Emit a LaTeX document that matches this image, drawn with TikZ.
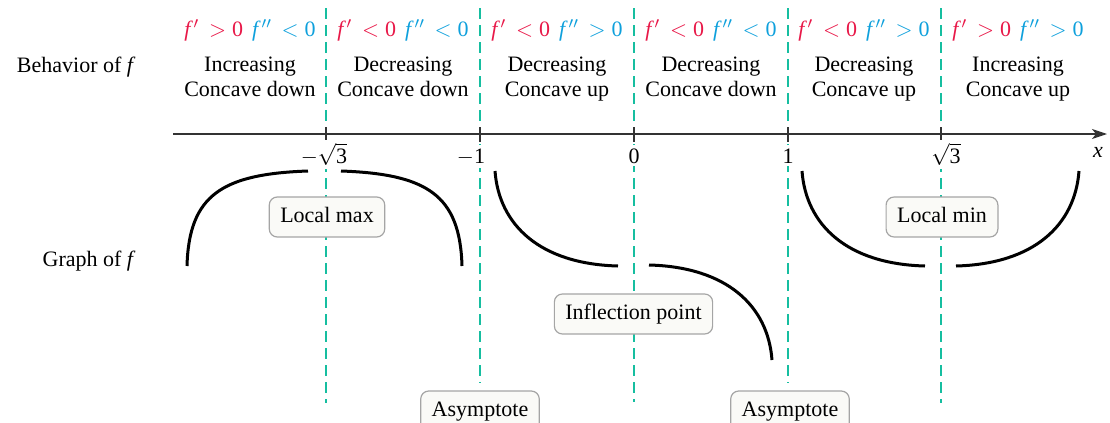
\documentclass[tikz,border=0pt]{standalone}
\usepackage{fontspec}
\setmainfont{Liberation Serif}
\usetikzlibrary{arrows.meta}
\definecolor{fpos}{RGB}{232,24,72}
\definecolor{fsec}{RGB}{14,160,220}
\definecolor{asym}{RGB}{22,190,160}
\definecolor{boxline}{RGB}{165,165,165}
\definecolor{boxfill}{RGB}{250,250,247}
\newcommand{\dfa}{\textit{f\/}\kern0.4pt$'$}
\newcommand{\dfb}{\textit{f\/}\kern0.4pt$''$}
\newcommand{\signs}[2]{{\color{fpos}\dfa\,${}#1{}$0}\hspace{4.5pt}{\color{fsec}\dfb\,${}#2{}$0}}

\begin{document}
\begin{tikzpicture}[x=0.5pt, y=-0.5pt,
    font=\fontsize{11pt}{13pt}\selectfont,
    sign/.style={anchor=base, inner sep=0pt},
    behv/.style={anchor=base, inner sep=0pt},
    rowlab/.style={anchor=base east, inner sep=0pt},
    tklab/.style={anchor=base, fill=white, inner sep=1.5pt},
    tag/.style={draw=boxline, fill=boxfill, line width=0.6pt, rounded corners=4pt,
      inner xsep=5.5pt, inner ysep=0pt, minimum height=20pt,
      text height=7.5pt, text depth=2.3pt},
    guide/.style={asym, line width=0.85pt, dash pattern=on 5.5pt off 3pt},
    axisline/.style={line width=0.65pt, black!80},
    curve/.style={line width=1.5pt}]
  \useasboundingbox (0,0) rectangle (1110,423);
  % dashed guides
  \draw[guide] (326,8) -- (326,403);
  \draw[guide] (480,8) -- (480,383);
  \draw[guide] (634,8) -- (634,402);
  \draw[guide] (788,8) -- (788,383);
  \draw[guide] (941,8) -- (941,403);
  % axis and ticks
  \draw[axisline, -{Stealth[length=7.5pt,width=5pt,inset=2pt]}] (173,134) -- (1107,134);
  \draw[axisline] (326,127) -- (326,142);
  \draw[axisline] (480,127) -- (480,142);
  \draw[axisline] (634,127) -- (634,142);
  \draw[axisline] (788,127) -- (788,142);
  \draw[axisline] (941,127) -- (941,142);
  \node[tklab] (tmr3) at (324,163) {$-\sqrt{\mbox{3}}$};
  \node[tklab] (tm1) at (471,163) {$-$1};
  \node[tklab] (t0) at (634,163) {0};
  \node[tklab] (t1) at (788,163) {1};
  \node[tklab] (tr3) at (946,163) {$\sqrt{\mbox{3}}$};
  \node[sign] (xlab) at (1098,157) {\textit{x}};
  % row labels
  \node[rowlab] (behav) at (136,72) {Behavior of \textit{f}};
  \node[rowlab] (graph) at (136,266) {Graph of \textit{f}};
  % signs and behaviour
  \node[sign] (s1) at (250,36) {\signs{>}{<}};
  \node[sign] (s2) at (403,36) {\signs{<}{<}};
  \node[sign] (s3) at (557,36) {\signs{<}{>}};
  \node[sign] (s4) at (711,36) {\signs{<}{<}};
  \node[sign] (s5) at (864,36) {\signs{<}{>}};
  \node[sign] (s6) at (1018,36) {\signs{>}{>}};
  \node[behv] (b1) at (250,71) {Increasing};
  \node[behv] (c1) at (250,96) {Concave down};
  \node[behv] (b2) at (403,71) {Decreasing};
  \node[behv] (c2) at (403,96) {Concave down};
  \node[behv] (b3) at (557,71) {Decreasing};
  \node[behv] (c3) at (557,96) {Concave up};
  \node[behv] (b4) at (711,71) {Decreasing};
  \node[behv] (c4) at (711,96) {Concave down};
  \node[behv] (b5) at (864,71) {Decreasing};
  \node[behv] (c5) at (864,96) {Concave up};
  \node[behv] (b6) at (1018,71) {Increasing};
  \node[behv] (c6) at (1018,96) {Concave up};
  % graph pieces
  \draw[curve] (187,266) .. controls (189,195) and (222,174) .. (308,171);
  \draw[curve] (341,171) .. controls (427,174) and (460,195) .. (462,266);
  \draw[curve] (495,171) .. controls (499,225) and (540,264) .. (618,266);
  \draw[curve] (649,265) .. controls (727,267) and (768,306) .. (772,360);
  \draw[curve] (802,171) .. controls (806,225) and (847,264) .. (925,266);
  \draw[curve] (956,266) .. controls (1034,264) and (1075,225) .. (1079,171);
  % callouts
  \node[tag] (lmax) at (327,217) {Local max};
  \node[tag] (lmin) at (942,217) {Local min};
  \node[tag] (infl) at (633.5,314) {Inflection point};
  \node[tag] (asyl) at (480,411) {Asymptote};
  \node[tag] (asyr) at (790,411) {Asymptote};
\end{tikzpicture}
\end{document}
